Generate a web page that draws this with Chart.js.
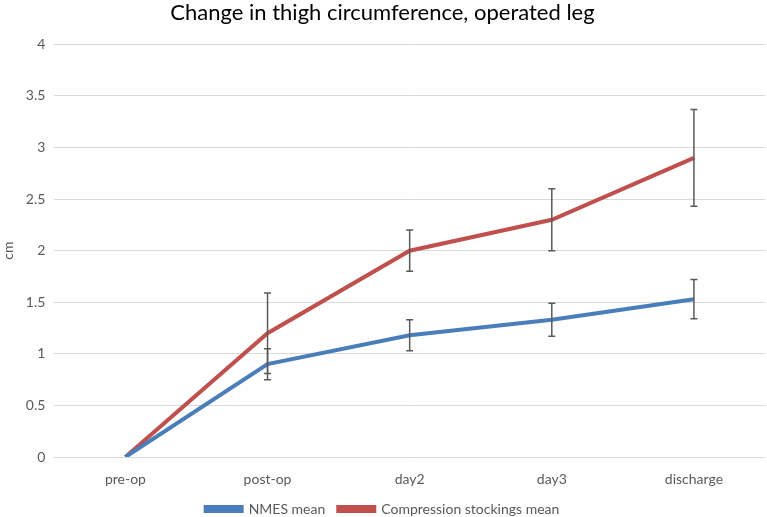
<!DOCTYPE html>
<html>
<head>
<meta charset="utf-8">
<script src="https://cdn.jsdelivr.net/npm/chart.js@4/dist/chart.umd.min.js"></script>
<style>
    html, body { margin: 0; padding: 0; background: #fff; }
    #wrap { width: 767px; height: 517px; }
</style>
</head>
<body>
<div id="wrap"><canvas id="thighCanvas" width="767" height="517"></canvas></div>
<script>
// Datos
const categories = ['pre-op', 'post-op', 'day2', 'day3', 'discharge'];
const nmesMean = [0, 0.9, 1.18, 1.33, 1.53];
const nmesErr = [0, 0.15, 0.15, 0.16, 0.19];
const stockingsMean = [0, 1.2, 2.0, 2.3, 2.9];
const stockingsErr = [0, 0.39, 0.2, 0.3, 0.47];
const yTicks = [0, 0.5, 1, 1.5, 2, 2.5, 3, 3.5, 4];

const textColor = '#595959';
const fontFamily = 'Lato, "Open Sans", sans-serif';

// Barras de error dibujadas con las escalas del gráfico
const errorBarsPlugin = {
    id: 'errorBars',
    afterDatasetsDraw(chart) {
        const ctx = chart.ctx;
        const yScale = chart.scales.y;
        chart.data.datasets.forEach((ds, di) => {
            const meta = chart.getDatasetMeta(di);
            if (!ds.errors) return;
            ctx.save();
            ctx.strokeStyle = '#595959';
            ctx.lineWidth = 1.5;
            meta.data.forEach((pt, i) => {
                const err = ds.errors[i];
                if (!err) return;
                const x = pt.x;
                const top = yScale.getPixelForValue(ds.data[i] + err);
                const bottom = yScale.getPixelForValue(ds.data[i] - err);
                ctx.beginPath();
                ctx.moveTo(x, top);
                ctx.lineTo(x, bottom);
                ctx.moveTo(x - 3.5, top);
                ctx.lineTo(x + 3.5, top);
                ctx.moveTo(x - 3.5, bottom);
                ctx.lineTo(x + 3.5, bottom);
                ctx.stroke();
            });
            ctx.restore();
        });
    }
};

const chart = new Chart(document.getElementById('thighCanvas'), {
    type: 'line',
    data: {
        labels: categories,
        datasets: [
            {
                label: 'NMES mean',
                data: nmesMean,
                errors: nmesErr,
                borderColor: '#4a7ebb',
                backgroundColor: '#4a7ebb',
                borderWidth: 4,
                pointRadius: 0,
                tension: 0,
                fill: false
            },
            {
                label: 'Compression stockings mean',
                data: stockingsMean,
                errors: stockingsErr,
                borderColor: '#c0504d',
                backgroundColor: '#c0504d',
                borderWidth: 4,
                pointRadius: 0,
                tension: 0,
                fill: false
            }
        ]
    },
    options: {
        responsive: false,
        animation: false,
        layout: {
            padding: { left: 0, right: 2, top: 0, bottom: 0 }
        },
        plugins: {
            title: {
                display: true,
                text: 'Change in thigh circumference, operated leg',
                color: '#000',
                font: { family: fontFamily, size: 22, weight: 'normal' },
                padding: { top: 0, bottom: 18 }
            },
            legend: {
                display: true,
                position: 'bottom',
                maxHeight: 28,
                labels: {
                    color: textColor,
                    font: { family: fontFamily, size: 14 },
                    boxWidth: 36,
                    boxHeight: 4,
                    padding: 13
                }
            },
            tooltip: { enabled: false }
        },
        scales: {
            x: {
                offset: true,
                grid: { display: false, drawTicks: false },
                border: { display: false },
                ticks: {
                    color: textColor,
                    font: { family: fontFamily, size: 14 },
                    padding: 14
                },
                // altura fija del eje para dejar el área de trazado como en la figura
                afterFit: scale => {
                    scale.height = 32;
                }
            },
            y: {
                min: 0,
                max: 4,
                afterBuildTicks: axis => {
                    axis.ticks = yTicks.map(v => ({ value: v }));
                },
                grid: { color: '#d9d9d9', lineWidth: 1, drawTicks: false },
                border: { display: false },
                title: {
                    display: true,
                    text: 'cm',
                    color: textColor,
                    font: { family: fontFamily, size: 14 },
                    padding: 0
                },
                ticks: {
                    color: textColor,
                    font: { family: fontFamily, size: 14 },
                    padding: 9,
                    callback: value => String(value)
                }
            }
        }
    },
    plugins: [errorBarsPlugin]
});
</script>
</body>
</html>
